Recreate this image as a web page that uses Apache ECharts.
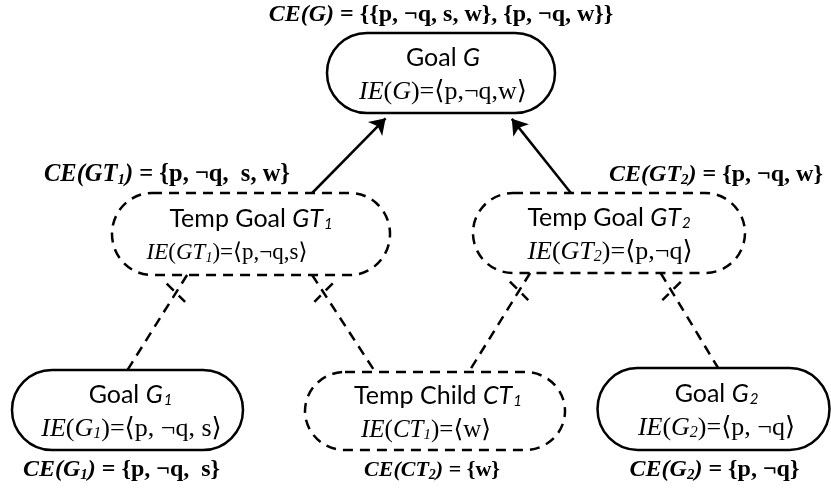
<!DOCTYPE html>
<html><head><meta charset="utf-8">
<script src="https://cdn.jsdelivr.net/npm/echarts@6/dist/echarts.min.js"></script>
<style>html,body{margin:0;padding:0;background:#fff}#main{width:831px;height:489px}</style>
</head><body><div id="main"></div>
<script>
// ---- diagram content ----
const nodeIds = ['G', 'GT1', 'GT2', 'G1', 'CT1', 'G2'];
const nodeDashed = [false, true, true, false, true, false];
const nodeTitle = [
  '{s|Goal }{si|G}',
  '{s|Temp Goal }{si|GT}{ss|1}',
  '{s|Temp Goal }{si|GT}{ss|2}',
  '{s|Goal }{si|G}{ss|1}',
  '{s|Temp Child }{si|CT}{ss|1}',
  '{s|Goal }{si|G}{ss|2}'
];
const nodeIE = [
  '{ri|IE}{r|(}{ri|G}{r|)=⟨p,¬q,w⟩}',
  '{ri|IE}{r|(}{ri|GT}{rs|1}{r|)=⟨p,¬q,s⟩}',
  '{ri|IE}{r|(}{ri|GT}{rs|2}{r|)=⟨p,¬q⟩}',
  '{ri|IE}{r|(}{ri|G}{rs|1}{r|)=⟨p, ¬q, s⟩}',
  '{ri|IE}{r|(}{ri|CT}{rs|1}{r|)=⟨w⟩}',
  '{ri|IE}{r|(}{ri|G}{rs|2}{r|)=⟨p, ¬q⟩}'
];
const nodeCE = [
  '{bi|CE(G)} = {{p, ¬q, s, w}, {p, ¬q, w}}',
  '{bi|CE(GT}{bs|1}{bi|)} = {p, ¬q,  s, w}',
  '{bi|CE(GT}{bs|2}{bi|)} = {p, ¬q, w}',
  '{bi|CE(G}{bs|1}{bi|)} = {p, ¬q,  s}',
  '{bi|CE(CT}{bs|2}{bi|)} = {w}',
  '{bi|CE(G}{bs|2}{bi|)} = {p, ¬q}'
];
const arrowEdges = [['GT1', 'G'], ['GT2', 'G']];
const dashedEdges = [['GT1', 'G1'], ['GT1', 'CT1'], ['GT2', 'CT1'], ['GT2', 'G2']];

// ---- layout (diagram units) ----
const layoutCX = [441, 251, 609, 127.5, 435, 713.5];
const layoutCY = [73, 234, 233, 410, 411, 409];
const layoutW = [228, 278, 272, 231, 260, 232];
const layoutH = [80, 82, 80, 80, 78, 82];
const titleOffsetX = [2, 0, 0, 3, 3, 3];
const ieOffsetX = [2, -24, 1, 4, -9, 3];
const ceOffsetX = [0, -84, 107, -6, -3, 1];
const ceSide = ['top', 'top', 'top', 'bottom', 'bottom', 'bottom'];
const ieFontSize = [26, 23, 26, 26, 25, 26];
const ceFontSize = [24, 24.5, 24, 24, 22, 24];
const arrowSrcFrac = [0.72, 0.36];
const arrowDstFrac = [0.28, 0.79];
const dashSrcFrac = [0.27, 0.72, 0.21, 0.69];
const dashDstFrac = [0.50, 0.27, 0.63, 0.52];

const SANS = 'Lato, "Open Sans", sans-serif';
const SERIF = '"Liberation Serif", "DejaVu Serif", serif';
const BLK = '#000';
const TITLE_SIZE = 25;
function makeRich(ie, ce) {
  return {
    s: { fontFamily: SANS, fontSize: TITLE_SIZE, fill: BLK },
    si: { fontFamily: SANS, fontSize: TITLE_SIZE, fontStyle: 'italic', fill: BLK },
    ss: { fontFamily: SANS, fontSize: 15, fontStyle: 'italic', fill: BLK, padding: [10, 0, 0, 1] },
    r: { fontFamily: SERIF, fontSize: ie, fill: BLK },
    ri: { fontFamily: SERIF, fontSize: ie, fontStyle: 'italic', fill: BLK },
    rs: { fontFamily: SERIF, fontSize: Math.round(ie * 0.6), fontStyle: 'italic', fill: BLK, padding: [10, 0, 0, 0] },
    bi: { fontFamily: SERIF, fontSize: ce, fontStyle: 'italic', fontWeight: 'bold', fill: BLK },
    bs: { fontFamily: SERIF, fontSize: Math.round(ce * 0.62), fontStyle: 'italic', fontWeight: 'bold', fill: BLK, padding: [10, 0, 0, 0] }
  };
}

const DASH = [10, 7];
const ARROW = 15;

function idx(id) { return nodeIds.indexOf(id); }
function anchor(i, frac, side) {
  const x = layoutCX[i] - layoutW[i] / 2 + frac * layoutW[i];
  const y = side === 'top' ? layoutCY[i] - layoutH[i] / 2 : layoutCY[i] + layoutH[i] / 2;
  return [x, y];
}

const arrowData = arrowEdges.map((e, k) => {
  const a = anchor(idx(e[0]), arrowSrcFrac[k], 'top');
  const b = anchor(idx(e[1]), arrowDstFrac[k], 'bottom');
  const dx = b[0] - a[0], dy = b[1] - a[1], L = Math.hypot(dx, dy);
  const end = [b[0] - dx / L * ARROW / 2, b[1] - dy / L * ARROW / 2];
  return { coords: [a, end] };
});
const dashData = [];
const crossData = [];
dashedEdges.forEach((e, k) => {
  const a = anchor(idx(e[0]), dashSrcFrac[k], 'bottom');
  const b = anchor(idx(e[1]), dashDstFrac[k], 'top');
  dashData.push({ coords: [a, b] });
  const dx = b[0] - a[0], dy = b[1] - a[1], L = Math.hypot(dx, dy);
  const ux = dx / L, uy = dy / L;
  const c = [a[0] + ux * 21, a[1] + uy * 21];
  const px = -Math.sign(ux) / Math.SQRT2, py = 1 / Math.SQRT2, hl = 13;
  crossData.push({ coords: [[c[0] - px * hl, c[1] - py * hl], [c[0] + px * hl, c[1] + py * hl]] });
});

function boxPath(x, y, w, h) {
  const rx = 40, ry = h / 2, k = 0.5523;
  return 'M' + (x + rx) + ',' + y +
    ' L' + (x + w - rx) + ',' + y +
    ' C' + (x + w - rx + k * rx) + ',' + y + ' ' + (x + w) + ',' + (y + ry - k * ry) + ' ' + (x + w) + ',' + (y + ry) +
    ' C' + (x + w) + ',' + (y + ry + k * ry) + ' ' + (x + w - rx + k * rx) + ',' + (y + h) + ' ' + (x + w - rx) + ',' + (y + h) +
    ' L' + (x + rx) + ',' + (y + h) +
    ' C' + (x + rx - k * rx) + ',' + (y + h) + ' ' + x + ',' + (y + ry + k * ry) + ' ' + x + ',' + (y + ry) +
    ' C' + x + ',' + (y + ry - k * ry) + ' ' + (x + rx - k * rx) + ',' + y + ' ' + (x + rx) + ',' + y + ' Z';
}

const chart = echarts.init(document.getElementById('main'), null, { renderer: 'canvas' });
chart.setOption({
  animation: false,
  backgroundColor: '#fff',
  grid: { left: 0, right: 0, top: 0, bottom: 0 },
  xAxis: { type: 'value', min: 0, max: 831, show: false },
  yAxis: { type: 'value', min: 0, max: 489, inverse: true, show: false },
  series: [
    {
      type: 'custom',
      coordinateSystem: 'cartesian2d',
      z: 2,
      silent: true,
      data: nodeIds.map((id, i) => [layoutCX[i], layoutCY[i], layoutW[i], layoutH[i]]),
      renderItem: function (params, api) {
        const i = params.dataIndex;
        const c = api.coord([api.value(0), api.value(1)]);
        const sz = api.size([api.value(2), api.value(3)]);
        const w = Math.abs(sz[0]), h = Math.abs(sz[1]);
        const x = c[0] - w / 2, y = c[1] - h / 2;
        const ceY = ceSide[i] === 'top' ? y - 18 : y + h + 20;
        const rich = makeRich(ieFontSize[i], ceFontSize[i]);
        return {
          type: 'group',
          children: [
            {
              type: 'path',
              shape: { pathData: boxPath(x, y, w, h) },
              style: { fill: 'none', stroke: BLK, lineWidth: 2.5, lineDash: nodeDashed[i] ? DASH : null }
            },
            {
              type: 'text',
              style: { text: nodeTitle[i], x: c[0] + titleOffsetX[i], y: c[1] - 15, align: 'center', verticalAlign: 'middle', rich: rich, fontFamily: SANS, fontSize: TITLE_SIZE, fill: BLK }
            },
            {
              type: 'text',
              style: { text: nodeIE[i], x: c[0] + ieOffsetX[i], y: c[1] + 19, align: 'center', verticalAlign: 'middle', rich: rich, fontFamily: SERIF, fontSize: ieFontSize[i], fill: BLK }
            },
            {
              type: 'text',
              style: { text: nodeCE[i], x: c[0] + ceOffsetX[i], y: ceY, align: 'center', verticalAlign: 'middle', rich: rich, fontFamily: SERIF, fontWeight: 'bold', fontSize: ceFontSize[i], fill: BLK }
            }
          ]
        };
      }
    },
    {
      type: 'lines',
      coordinateSystem: 'cartesian2d',
      z: 3,
      silent: true,
      symbol: ['none', 'arrow'],
      symbolSize: ARROW,
      lineStyle: { color: BLK, width: 2.5, opacity: 1, type: 'solid' },
      data: arrowData
    },
    {
      type: 'lines',
      coordinateSystem: 'cartesian2d',
      z: 3,
      silent: true,
      symbol: ['none', 'none'],
      lineStyle: { color: BLK, width: 2.5, opacity: 1, type: DASH },
      data: dashData.concat(crossData)
    }
  ]
});
</script></body></html>
